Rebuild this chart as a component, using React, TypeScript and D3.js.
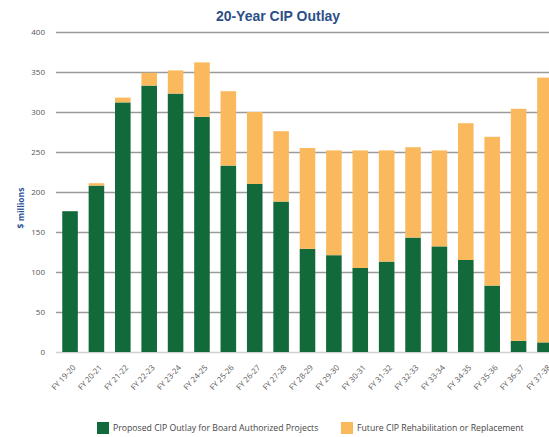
import React, { useEffect, useRef } from "react";
import * as d3 from "d3";

// fiscal years on the x axis
const years = [
  "FY 19-20", "FY 20-21", "FY 21-22", "FY 22-23", "FY 23-24", "FY 24-25",
  "FY 25-26", "FY 26-27", "FY 27-28", "FY 28-29", "FY 29-30", "FY 30-31",
  "FY 31-32", "FY 32-33", "FY 33-34", "FY 34-35", "FY 35-36", "FY 36-37",
  "FY 37-38",
];

// $ millions, proposed outlay for board authorized projects
const proposed = [176, 208, 312, 333, 323, 294, 233, 210, 188, 129, 121, 105, 113, 143, 132, 115, 83, 14, 12];

// $ millions, future rehabilitation or replacement
const future = [0, 3, 6, 16, 29, 68, 93, 90, 88, 126, 131, 147, 139, 113, 120, 171, 186, 290, 331];

const yTicks = [0, 50, 100, 150, 200, 250, 300, 350, 400];

const seriesNames = [
  "Proposed CIP Outlay for Board Authorized Projects",
  "Future CIP Rehabilitation or Replacement",
];

const GREEN = "#12693a";
const ORANGE = "#fbb95e";

const App: React.FC = () => {
  const svgRef = useRef<SVGSVGElement | null>(null);

  useEffect(() => {
    const width = 549;
    const height = 437;
    const font = "'Open Sans', 'Liberation Sans', sans-serif";

    const svg = d3.select(svgRef.current);
    svg.selectAll("*").remove();
    svg.attr("width", width).attr("height", height);

    const x = d3
      .scaleBand<string>()
      .domain(years)
      .range([55, 560])
      .paddingInner(0.41)
      .paddingOuter(0.275);

    const y = d3.scaleLinear().domain([0, 400]).range([352, 32]);

    // title
    svg
      .append("text")
      .attr("x", 278)
      .attr("y", 21)
      .attr("text-anchor", "middle")
      .attr("font-family", "Arial, 'Liberation Sans', sans-serif")
      .attr("font-weight", "bold")
      .attr("font-size", 14)
      .attr("fill", "#2c4f86")
      .text("20-Year CIP Outlay");

    // y axis + gridlines
    const yAxis = svg
      .append("g")
      .attr("transform", "translate(56,0)")
      .call(
        d3
          .axisLeft(y)
          .tickValues(yTicks)
          .tickSize(-(width - 56))
          .tickPadding(11)
      );
    yAxis.select(".domain").remove();
    yAxis
      .selectAll(".tick line")
      .attr("stroke", (d) => (d === 0 ? "#d0d0d0" : "#9a9a9a"))
      .attr("stroke-width", 1.5);
    yAxis
      .selectAll(".tick text")
      .attr("font-family", font)
      .attr("font-size", 8)
      .attr("fill", "#555");

    svg
      .append("text")
      .attr("transform", "translate(24,208) rotate(-90)")
      .attr("text-anchor", "middle")
      .attr("font-family", font)
      .attr("font-weight", "bold")
      .attr("font-size", 8.5)
      .attr("fill", "#2e5597")
      .text("$ millions");

    // stacked bars
    const rows = years.map((yr, i) => ({ yr, proposed: proposed[i], future: future[i] }));
    const stack = d3.stack<any>().keys(["proposed", "future"])(rows);
    const colors = [GREEN, ORANGE];

    stack.forEach((layer, li) => {
      svg
        .append("g")
        .selectAll("rect")
        .data(layer.filter((d) => d[1] - d[0] > 0))
        .enter()
        .append("rect")
        .attr("x", (d) => x(d.data.yr) as number)
        .attr("width", x.bandwidth())
        .attr("y", (d) => y(d[1]))
        .attr("height", (d) => y(d[0]) - y(d[1]))
        .attr("fill", colors[li]);
    });

    // x axis labels
    const xAxis = svg
      .append("g")
      .attr("transform", "translate(0,352)")
      .call(d3.axisBottom(x).tickSize(0));
    xAxis.select(".domain").remove();
    xAxis
      .selectAll(".tick text")
      .attr("x", 0)
      .attr("y", 0)
      .attr("dy", 0)
      .attr("transform", "translate(6,16) rotate(-47)")
      .attr("text-anchor", "end")
      .attr("font-family", font)
      .attr("font-size", 7.8)
      .attr("fill", "#555");

    // legend
    const legendX = [97, 341];
    seriesNames.forEach((name, i) => {
      const g = svg.append("g").attr("transform", `translate(${legendX[i]},422)`);
      g.append("rect").attr("width", 12).attr("height", 12).attr("fill", colors[i]);
      g.append("text")
        .attr("x", 16)
        .attr("y", 9)
        .attr("font-family", font)
        .attr("font-size", 8.7)
        .attr("fill", "#444")
        .text(name);
    });
  }, []);

  return (
    <div>
      <svg ref={svgRef} style={{ position: "absolute", left: 0, top: 0 }}></svg>
    </div>
  );
};

export default App;
